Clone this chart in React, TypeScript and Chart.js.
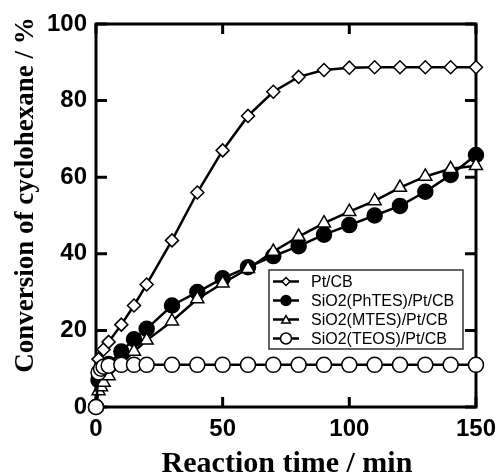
import React, { useEffect, useRef } from 'react';
import { Chart, registerables } from 'chart.js';

Chart.register(...registerables);

// ---- data ----
const timePtCB = [0, 1, 3, 5, 10, 15, 20, 30, 40, 50, 60, 70, 80, 90, 100, 110, 120, 130, 140, 150];
const convPtCB = [0, 12.5, 15, 17, 21.5, 26.5, 32, 43.5, 56, 67, 76, 82.3, 86.2, 88, 88.6, 88.7, 88.7, 88.7, 88.7, 88.7];

const timePhTES = [0, 1, 2, 3, 5, 10, 15, 20, 30, 40, 50, 60, 70, 80, 90, 100, 110, 120, 130, 140, 150];
const convPhTES = [0, 7, 9, 10, 11.2, 14.5, 17.7, 20.4, 26.5, 30, 33.6, 36.5, 39.4, 42, 45, 47.5, 50, 52.5, 56.2, 60.6, 65.8];

const timeMTES = [0, 1, 2, 3, 5, 10, 15, 20, 30, 40, 50, 60, 70, 80, 90, 100, 110, 120, 130, 140, 150];
const convMTES = [0, 4.2, 5.2, 6.4, 8.1, 11.4, 14.5, 17.4, 22.4, 28.2, 32.3, 36.1, 40.6, 44.5, 48, 51, 53.8, 57.3, 60.2, 62.2, 63];

const timeTEOS = [0, 1, 2, 3, 5, 10, 15, 20, 30, 40, 50, 60, 70, 80, 90, 100, 110, 120, 130, 140, 150];
const convTEOS = [0, 9, 10, 10.5, 10.8, 11, 11, 11, 11, 11, 11, 11, 11, 11, 11, 11, 11, 11, 11, 11, 11];

const seriesNames = ['Pt/CB', 'SiO2(PhTES)/Pt/CB', 'SiO2(MTES)/Pt/CB', 'SiO2(TEOS)/Pt/CB'];
const xTickValues = [0, 50, 100, 150];
const yTickValues = [0, 20, 40, 60, 80, 100];
const xTitle = 'Reaction time / min';
const yTitle = 'Conversion of cyclohexane / %';

const pts = (xs: number[], ys: number[]) => xs.map((x, i) => ({ x, y: ys[i] }));

function drawMarker(ctx: CanvasRenderingContext2D, style: string, x: number, y: number, r: number, fill: string) {
  ctx.beginPath();
  if (style === 'circle') {
    ctx.arc(x, y, r, 0, Math.PI * 2);
  } else if (style === 'rectRot') {
    ctx.moveTo(x, y - r);
    ctx.lineTo(x + r, y);
    ctx.lineTo(x, y + r);
    ctx.lineTo(x - r, y);
    ctx.closePath();
  } else {
    const a = Math.PI * 2 / 3;
    ctx.moveTo(x, y - r);
    ctx.lineTo(x + Math.sin(a) * r, y - Math.cos(a) * r);
    ctx.lineTo(x + Math.sin(2 * a) * r, y - Math.cos(2 * a) * r);
    ctx.closePath();
  }
  ctx.fillStyle = fill;
  ctx.fill();
  ctx.lineWidth = 1.5;
  ctx.strokeStyle = '#000';
  ctx.stroke();
}

const framePlugin = {
  id: 'frame',
  beforeDatasetsDraw(chart: any) {
    const { ctx, chartArea, scales } = chart;
    const { left, right, top, bottom } = chartArea;
    ctx.save();
    ctx.strokeStyle = '#000';
    ctx.lineWidth = 3;
    ctx.strokeRect(left, top, right - left, bottom - top);
    xTickValues.forEach((v) => {
      const px = scales.x.getPixelForValue(v);
      ctx.beginPath();
      ctx.moveTo(px, bottom);
      ctx.lineTo(px, bottom - 10);
      ctx.moveTo(px, top);
      ctx.lineTo(px, top + 10);
      ctx.stroke();
    });
    yTickValues.forEach((v) => {
      const py = scales.y.getPixelForValue(v);
      ctx.beginPath();
      ctx.moveTo(left, py);
      ctx.lineTo(left + 11, py);
      ctx.moveTo(right, py);
      ctx.lineTo(right - 11, py);
      ctx.stroke();
    });
    ctx.restore();
  },
};

const legendPlugin = {
  id: 'insideLegend',
  afterDatasetsDraw(chart: any) {
    const { ctx, chartArea } = chart;
    const bx = chartArea.left + 173;
    const by = chartArea.top + 246;
    const bw = 194;
    const bh = 79;
    ctx.save();
    ctx.fillStyle = '#fff';
    ctx.fillRect(bx, by, bw, bh);
    ctx.strokeStyle = '#333';
    ctx.lineWidth = 1.5;
    ctx.strokeRect(bx, by, bw, bh);
    const styles = ['rectRot', 'circle', 'triangle', 'circle'];
    const fills = ['#fff', '#000', '#fff', '#fff'];
    const radii = [4, 5, 5, 5.5];
    seriesNames.forEach((name, i) => {
      const cy = by + 11.5 + i * 19;
      ctx.beginPath();
      ctx.strokeStyle = '#000';
      ctx.lineWidth = 2.5;
      ctx.moveTo(bx + 4, cy);
      ctx.lineTo(bx + 30, cy);
      ctx.stroke();
      drawMarker(ctx, styles[i], bx + 17, cy + (styles[i] === 'triangle' ? 1 : 0), radii[i], fills[i]);
      ctx.fillStyle = '#000';
      ctx.font = '16px "Liberation Sans", Arial, sans-serif';
      ctx.textAlign = 'left';
      ctx.textBaseline = 'middle';
      ctx.fillText(name, bx + 42, cy + 1);
    });
    ctx.restore();
  },
};

const titlePlugin = {
  id: 'axisTitles',
  afterDraw(chart: any) {
    const { ctx, chartArea } = chart;
    ctx.save();
    ctx.fillStyle = '#000';
    ctx.font = 'bold 30px "Liberation Serif", "Times New Roman", serif';
    ctx.textAlign = 'center';
    ctx.textBaseline = 'alphabetic';
    ctx.fillText(xTitle, (chartArea.left + chartArea.right) / 2 + 1, 472);
    ctx.translate(33, 195);
    ctx.rotate(-Math.PI / 2);
    ctx.font = 'bold 27px "Liberation Serif", "Times New Roman", serif';
    ctx.fillText(yTitle, 0, 0);
    ctx.restore();
  },
};

export default function App() {
  const ref = useRef<HTMLCanvasElement | null>(null);

  useEffect(() => {
    if (!ref.current) return;
    const common = {
      borderColor: '#000',
      borderWidth: 2.5,
      pointBorderColor: '#000',
      pointBorderWidth: 1.5,
      tension: 0,
      clip: false as const,
    };
    const chart = new Chart(ref.current, {
      type: 'line',
      data: {
        datasets: [
          { ...common, label: seriesNames[3], data: pts(timeTEOS, convTEOS), pointStyle: 'circle', pointRadius: 7.5, pointBackgroundColor: '#fff' },
          { ...common, label: seriesNames[2], data: pts(timeMTES, convMTES), pointStyle: 'triangle', pointRadius: 7.5, pointBackgroundColor: '#fff' },
          { ...common, label: seriesNames[1], data: pts(timePhTES, convPhTES), pointStyle: 'circle', pointRadius: 7.5, pointBackgroundColor: '#000' },
          { ...common, label: seriesNames[0], data: pts(timePtCB, convPtCB), pointStyle: 'rectRot', pointRadius: 6.5, pointBackgroundColor: '#fff' },
        ],
      },
      options: {
        responsive: false,
        animation: false,
        layout: { padding: { top: 24, right: 24, left: 0, bottom: 0 } },
        plugins: { legend: { display: false }, tooltip: { enabled: false } },
        scales: {
          x: {
            type: 'linear',
            min: 0,
            max: 150,
            afterFit: (s: any) => { s.height = 68; },
            afterBuildTicks: (s: any) => { s.ticks = xTickValues.map((v) => ({ value: v })); },
            grid: { display: false, drawTicks: false },
            border: { display: false },
            ticks: {
              padding: 8,
              color: '#000',
              font: { family: '"Liberation Sans", Arial, sans-serif', size: 24, weight: 'bold' },
            },
          },
          y: {
            type: 'linear',
            min: 0,
            max: 100,
            afterFit: (s: any) => { s.width = 96; },
            afterBuildTicks: (s: any) => { s.ticks = yTickValues.map((v) => ({ value: v })); },
            grid: { display: false, drawTicks: false },
            border: { display: false },
            ticks: {
              padding: 9,
              color: '#000',
              font: { family: '"Liberation Sans", Arial, sans-serif', size: 24, weight: 'bold' },
            },
          },
        },
      },
      plugins: [framePlugin, legendPlugin, titlePlugin],
    });
    return () => chart.destroy();
  }, []);

  return (
    <div style={{ position: 'fixed', left: 0, top: 0, width: 504, height: 475, background: '#fff' }}>
      <canvas ref={ref} width={504} height={475} style={{ display: 'block' }} />
    </div>
  );
}
